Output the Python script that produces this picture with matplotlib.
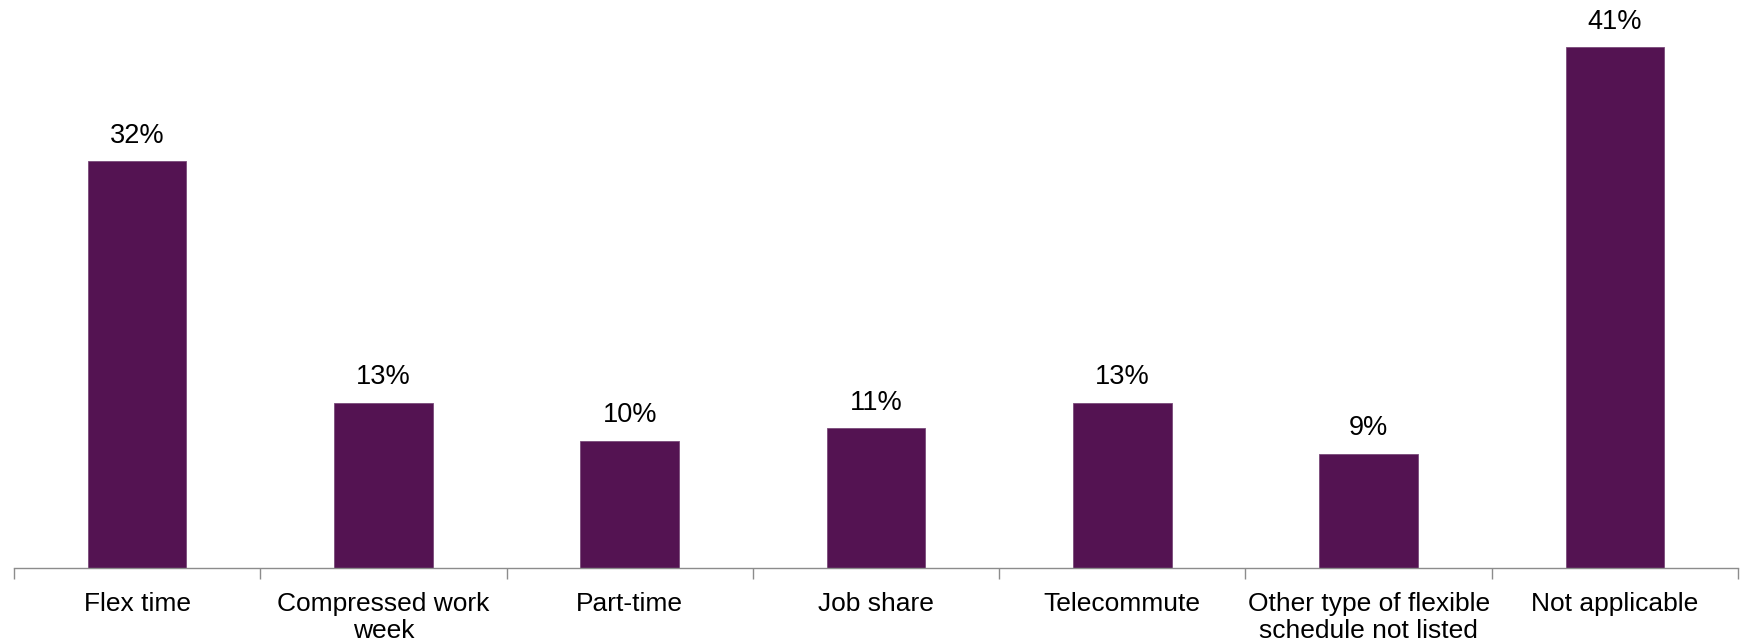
import numpy as np
import matplotlib.pyplot as plt

plt.rcParams['font.family'] = ['Liberation Sans', 'DejaVu Sans']

categories = ['Flex time', 'Compressed work\nweek', 'Part-time', 'Job share',
              'Telecommute', 'Other type of flexible\nschedule not listed', 'Not applicable']
values = [32, 13, 10, 11, 13, 9, 41]

bar_color = '#541352'
axis_color = '#8c8c8c'

fig = plt.figure(figsize=(17.41, 6.43), dpi=100)
ax = fig.add_axes([14 / 1741, 1 - 568 / 643, 1724 / 1741, 568 / 643])

x = np.arange(len(categories))
bars = ax.bar(x, values, width=0.4, color=bar_color, edgecolor='#7a4a7a', linewidth=0.6)

for b, v in zip(bars, values):
    ax.annotate(f'{v}%', (b.get_x() + b.get_width() / 2, v),
                xytext=(0, 9), textcoords='offset points',
                ha='center', va='bottom', fontsize=19.5)

ax.set_xlim(-0.5, len(categories) - 0.5)
ax.set_ylim(0, 44.7)

# boundary ticks between categories, labels centred on the bars
ax.set_xticks(np.arange(-0.5, len(categories)), labels=[''] * (len(categories) + 1))
ax.set_xticks(x, labels=categories, minor=True)
ax.tick_params(axis='x', which='major', length=8, width=1, color=axis_color, direction='out')
ax.tick_params(axis='x', which='minor', length=0, pad=17, labelsize=19)
for lbl in ax.get_xticklabels(minor=True):
    lbl.set_linespacing(1.2)
ax.set_yticks([])

for side in ['top', 'right', 'left']:
    ax.spines[side].set_visible(False)
ax.spines['bottom'].set_color(axis_color)
ax.spines['bottom'].set_linewidth(1)

fig.savefig('out.png', dpi=100)
